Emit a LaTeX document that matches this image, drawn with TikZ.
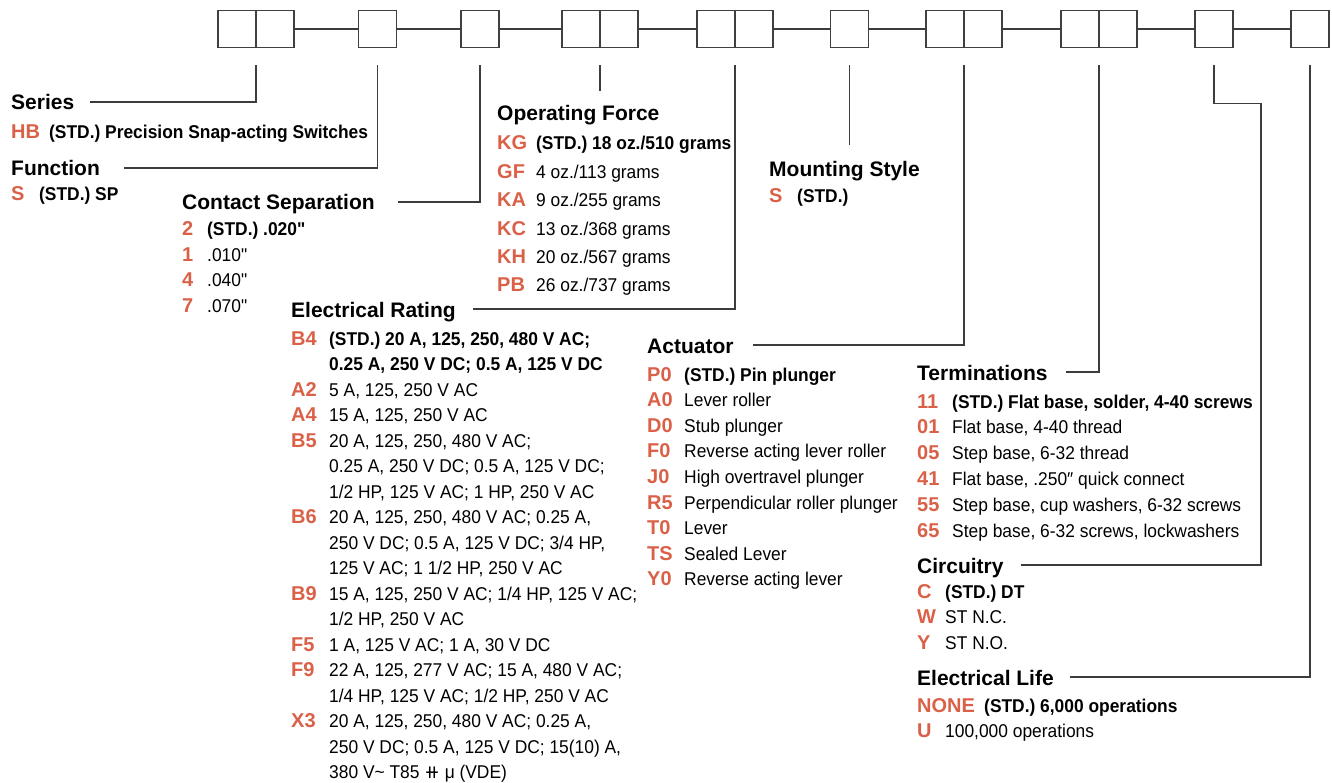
\documentclass[tikz,border=0pt]{standalone}
\usepackage{fontspec}
\setmainfont{Liberation Sans}
\newfontfamily\narrowfont[FakeStretch=0.94]{Liberation Sans}
\newfontfamily\symbfont{DejaVu Sans}
\usetikzlibrary{positioning,calc}
\definecolor{codered}{RGB}{218,96,72}
\definecolor{linegray}{RGB}{60,60,60}

\tikzset{
  digit/.style={draw=black!75, line width=1.3pt, minimum width=38pt,
    minimum height=37pt, inner sep=0pt, outer sep=0pt},
  leader/.style={draw=linegray, line width=1.2pt},
  head/.style={anchor=base west, inner sep=0pt,
    font=\bfseries\fontsize{21}{21}\selectfont},
  code/.style={anchor=base west, inner sep=0pt, text=codered,
    font=\bfseries\fontsize{20}{20}\selectfont},
  desc/.style={anchor=base west, inner sep=0pt,
    font=\narrowfont\fontsize{18.5}{18.5}\selectfont}
}

\begin{document}
\begin{tikzpicture}[x=1pt, y=-1pt]
  \useasboundingbox (0,0) rectangle (1332,783);

  % order code boxes
  \node[digit] (ser1) at (237,29) {};
  \node[digit, right=0pt of ser1] (ser2) {};
  \node[digit] (fun) at (377.5,29) {};
  \node[digit] (con) at (480,29) {};
  \node[digit] (opf1) at (581,29) {};
  \node[digit, right=0pt of opf1] (opf2) {};
  \node[digit] (ele1) at (716,29) {};
  \node[digit, right=0pt of ele1] (ele2) {};
  \node[digit] (mnt) at (849.5,29) {};
  \node[digit] (act1) at (945,29) {};
  \node[digit, right=0pt of act1] (act2) {};
  \node[digit] (ter1) at (1080,29) {};
  \node[digit, right=0pt of ter1] (ter2) {};
  \node[digit] (cir) at (1214,29) {};
  \node[digit] (lif) at (1310,29) {};

  \foreach \a/\b in {ser2/fun, fun/con, con/opf1, opf2/ele1, ele2/mnt,
                     mnt/act1, act2/ter1, ter2/cir, cir/lif}
    \draw[leader] (\a) -- (\b);

  % Series
  \node[head] (series) at (11,110) {Series};
  \node[code] (ser-c) at (11,139) {HB};
  \node[desc] (ser-t) at (49,139) {\bfseries (STD.) Precision Snap-acting Switches};

  % Function
  \node[head] (function) at (11,176) {Function};
  \node[code] (fun-c) at (11,201) {S};
  \node[desc] (fun-t) at (39,201) {\bfseries (STD.) SP};

  % Contact separation
  \node[head] (contact) at (182,210) {Contact Separation};
  \foreach \c/\t [count=\i from 0] in {2/{\bfseries (STD.) .020"}, 1/{.010"},
      4/{.040"}, 7/{.070"}} {
    \node[code] (con-c\i) at (182,236+25.4*\i) {\c};
    \node[desc] (con-t\i) at (207,236+25.4*\i) {\t};
  }

  % Operating force
  \node[head] (force) at (497,120.5) {Operating Force};
  \foreach \c/\t [count=\i from 0] in {KG/{\bfseries (STD.) 18 oz./510 grams},
      GF/{4 oz./113 grams}, KA/{9 oz./255 grams}, KC/{13 oz./368 grams},
      KH/{20 oz./567 grams}, PB/{26 oz./737 grams}} {
    \node[code] (opf-c\i) at (497,150+28.4*\i) {\c};
    \node[desc] (opf-t\i) at (536,150+28.4*\i) {\t};
  }

  % Electrical rating
  \node[head] (rating) at (291,317) {Electrical Rating};
  \foreach \c/\i in {B4/0, A2/2, A4/3, B5/4, B6/7, B9/10, F5/12, F9/13, X3/15}
    \node[code] (ele-c\i) at (291,345+25.5*\i) {\c};
  \foreach \t [count=\i from 0] in {
      {\bfseries (STD.) 20 A, 125, 250, 480 V AC;},
      {\bfseries 0.25 A, 250 V DC; 0.5 A, 125 V DC},
      {5 A, 125, 250 V AC},
      {15 A, 125, 250 V AC},
      {20 A, 125, 250, 480 V AC;},
      {0.25 A, 250 V DC; 0.5 A, 125 V DC;},
      {1/2 HP, 125 V AC; 1 HP, 250 V AC},
      {20 A, 125, 250, 480 V AC; 0.25 A,},
      {250 V DC; 0.5 A, 125 V DC; 3/4 HP,},
      {125 V AC; 1 1/2 HP, 250 V AC},
      {15 A, 125, 250 V AC; 1/4 HP, 125 V AC;},
      {1/2 HP, 250 V AC},
      {1 A, 125 V AC; 1 A, 30 V DC},
      {22 A, 125, 277 V AC; 15 A, 480 V AC;},
      {1/4 HP, 125 V AC; 1/2 HP, 250 V AC},
      {20 A, 125, 250, 480 V AC; 0.25 A,},
      {250 V DC; 0.5 A, 125 V DC; 15(10) A,},
      {380 V\textasciitilde{} T85 {\symbfont ⧺} μ (VDE)}}
    \node[desc] (ele-t\i) at (329,345+25.5*\i) {\t};

  % Mounting style
  \node[head] (mounting) at (769,177) {Mounting Style};
  \node[code] (mnt-c) at (769,203) {S};
  \node[desc] (mnt-t) at (797,203) {\bfseries (STD.)};

  % Actuator
  \node[head] (actuator) at (647,353) {Actuator};
  \foreach \c/\t [count=\i from 0] in {P0/{\bfseries (STD.) Pin plunger},
      A0/{Lever roller}, D0/{Stub plunger}, F0/{Reverse acting lever roller},
      J0/{High overtravel plunger}, R5/{Perpendicular roller plunger},
      T0/{Lever}, TS/{Sealed Lever}, Y0/{Reverse acting lever}} {
    \node[code] (act-c\i) at (647,381+25.6*\i) {\c};
    \node[desc] (act-t\i) at (684,381+25.6*\i) {\t};
  }

  % Terminations
  \node[head] (terminations) at (917,380) {Terminations};
  \foreach \c/\t [count=\i from 0] in {
      11/{\bfseries (STD.) Flat base, solder, 4-40 screws},
      01/{Flat base, 4-40 thread}, 05/{Step base, 6-32 thread},
      41/{Flat base, .250″ quick connect},
      55/{Step base, cup washers, 6-32 screws},
      65/{Step base, 6-32 screws, lockwashers}} {
    \node[code] (ter-c\i) at (917,408+25.8*\i) {\c};
    \node[desc] (ter-t\i) at (952,408+25.8*\i) {\t};
  }

  % Circuitry
  \node[head] (circuitry) at (917,573) {Circuitry};
  \foreach \c/\t [count=\i from 0] in {C/{\bfseries (STD.) DT},
      W/{ST N.C.}, Y/{ST N.O.}} {
    \node[code] (cir-c\i) at (917,598+25.5*\i) {\c};
    \node[desc] (cir-t\i) at (945,598+25.5*\i) {\t};
  }

  % Electrical life
  \node[head] (life) at (917,685) {Electrical Life};
  \node[code] (lif-c0) at (917,712) {NONE};
  \node[desc] (lif-t0) at (984,712) {\bfseries (STD.) 6,000 operations};
  \node[code] (lif-c1) at (917,737) {U};
  \node[desc] (lif-t1) at (945,737) {100,000 operations};

  % leaders
  \draw[leader] ($(ser1.south east)+(0,18)$) |- ($(series.base east)+(16,-8)$);
  \draw[leader] ($(fun.south)+(0,18)$) |- ($(function.base east)+(24,-8)$);
  \draw[leader] ($(con.south)+(0,18)$) |- ($(contact.base east)+(23,-8)$);
  \draw[leader] ($(opf1.south east)+(0,18)$) -- ++(0,26);
  \draw[leader] ($(ele1.south east)+(0,18)$) |- ($(rating.base east)+(17,-8)$);
  \draw[leader] ($(mnt.south)+(0,18)$) -- ++(0,80);
  \draw[leader] ($(act1.south east)+(0,18)$) |- ($(actuator.base east)+(19,-8)$);
  \draw[leader] ($(ter1.south east)+(0,18)$) |- ($(terminations.base east)+(18,-8)$);
  \draw[leader] ($(cir.south)+(0,18)$) |- ($(cir.south)+(47,56)$)
    |- ($(circuitry.base east)+(17,-8)$);
  \draw[leader] ($(lif.south)+(0,18)$) |- ($(life.base east)+(16,-8)$);
\end{tikzpicture}
\end{document}
